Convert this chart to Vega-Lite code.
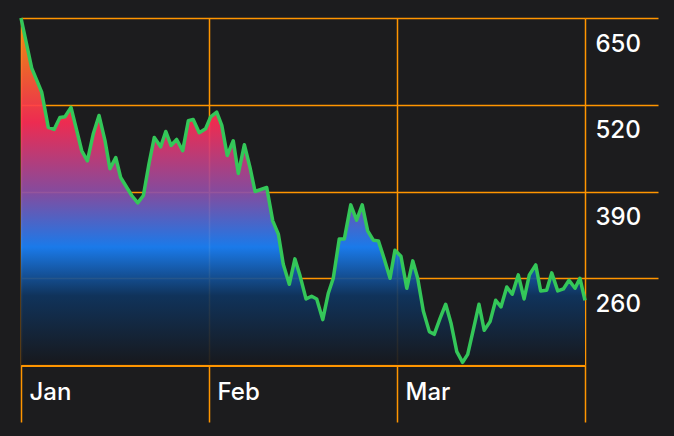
{
  "$schema": "https://vega.github.io/schema/vega-lite/v6.json",
  "autosize": "none",
  "width": 564,
  "height": 347,
  "padding": {"left": 21, "top": 18, "right": 89, "bottom": 71},
  "background": "#1c1c1e",
  "config": {
    "view": {"stroke": null},
    "axis": {
      "gridColor": "#ff9500",
      "gridWidth": 1.5,
      "tickColor": "#ff9500",
      "tickWidth": 1.5,
      "labelColor": "#ffffff",
      "labelFont": "Inter",
      "labelFontSize": 24,
      "labelFontWeight": 500,
      "title": null
    }
  },
  "data": {
    "values": [
      {"t": 0, "v": 650}, {"t": 0.057, "v": 575}, {"t": 0.11, "v": 539}, {"t": 0.145, "v": 486},
      {"t": 0.176, "v": 483}, {"t": 0.207, "v": 501}, {"t": 0.234, "v": 502}, {"t": 0.266, "v": 516},
      {"t": 0.323, "v": 451}, {"t": 0.353, "v": 436}, {"t": 0.385, "v": 477}, {"t": 0.415, "v": 504},
      {"t": 0.447, "v": 466}, {"t": 0.473, "v": 424}, {"t": 0.504, "v": 441}, {"t": 0.53, "v": 411},
      {"t": 0.589, "v": 384}, {"t": 0.621, "v": 373}, {"t": 0.651, "v": 384}, {"t": 0.681, "v": 432},
      {"t": 0.709, "v": 471}, {"t": 0.743, "v": 457}, {"t": 0.77, "v": 480}, {"t": 0.798, "v": 459},
      {"t": 0.828, "v": 468}, {"t": 0.86, "v": 451}, {"t": 0.89, "v": 496}, {"t": 0.916, "v": 498},
      {"t": 0.948, "v": 478}, {"t": 0.982, "v": 484}, {"t": 1.009, "v": 502}, {"t": 1.041, "v": 509},
      {"t": 1.068, "v": 489}, {"t": 1.097, "v": 444}, {"t": 1.129, "v": 466}, {"t": 1.156, "v": 417},
      {"t": 1.188, "v": 460}, {"t": 1.218, "v": 426}, {"t": 1.245, "v": 390}, {"t": 1.307, "v": 396},
      {"t": 1.339, "v": 346}, {"t": 1.369, "v": 326}, {"t": 1.395, "v": 281}, {"t": 1.427, "v": 251},
      {"t": 1.457, "v": 289}, {"t": 1.484, "v": 264}, {"t": 1.516, "v": 229}, {"t": 1.546, "v": 233},
      {"t": 1.573, "v": 229}, {"t": 1.605, "v": 198}, {"t": 1.635, "v": 238}, {"t": 1.661, "v": 260},
      {"t": 1.693, "v": 319}, {"t": 1.72, "v": 319}, {"t": 1.754, "v": 370}, {"t": 1.785, "v": 347},
      {"t": 1.815, "v": 370}, {"t": 1.844, "v": 331}, {"t": 1.874, "v": 317}, {"t": 1.901, "v": 316},
      {"t": 1.931, "v": 290}, {"t": 1.963, "v": 260}, {"t": 1.989, "v": 302}, {"t": 2.021, "v": 293},
      {"t": 2.052, "v": 245}, {"t": 2.084, "v": 286}, {"t": 2.11, "v": 260}, {"t": 2.14, "v": 211},
      {"t": 2.172, "v": 180}, {"t": 2.198, "v": 176}, {"t": 2.229, "v": 200}, {"t": 2.259, "v": 221},
      {"t": 2.287, "v": 193}, {"t": 2.318, "v": 150}, {"t": 2.349, "v": 134}, {"t": 2.376, "v": 146},
      {"t": 2.406, "v": 183}, {"t": 2.436, "v": 221}, {"t": 2.464, "v": 182}, {"t": 2.495, "v": 195},
      {"t": 2.525, "v": 227}, {"t": 2.553, "v": 217}, {"t": 2.584, "v": 247}, {"t": 2.613, "v": 236},
      {"t": 2.645, "v": 265}, {"t": 2.676, "v": 229}, {"t": 2.704, "v": 265}, {"t": 2.738, "v": 280},
      {"t": 2.764, "v": 241}, {"t": 2.796, "v": 242}, {"t": 2.823, "v": 268}, {"t": 2.855, "v": 241},
      {"t": 2.885, "v": 244}, {"t": 2.915, "v": 257}, {"t": 2.947, "v": 245}, {"t": 2.973, "v": 260},
      {"t": 3, "v": 227}
    ]
  },
  "encoding": {
    "x": {
      "field": "t",
      "type": "quantitative",
      "scale": {"domain": [0, 3], "nice": false, "zero": false},
      "axis": {
        "values": [0, 1, 2, 3],
        "grid": true,
        "tickSize": 57,
        "domainColor": "#ff9500",
        "domainWidth": 3,
        "labelExpr": "['Jan', 'Feb', 'Mar', ''][datum.value]",
        "labelAlign": "left",
        "labelBaseline": "middle",
        "labelOffset": 8,
        "labelPadding": -30,
        "labelFlush": false
      }
    },
    "y": {
      "field": "v",
      "type": "quantitative",
      "scale": {"domain": [130, 650], "nice": false, "zero": false},
      "axis": {
        "orient": "right",
        "values": [260, 390, 520, 650],
        "grid": true,
        "domain": false,
        "tickSize": 73,
        "labelAlign": "left",
        "labelBaseline": "middle",
        "labelOffset": 26,
        "labelPadding": -63,
        "labelFlush": false
      }
    }
  },
  "layer": [
    {
      "mark": {
        "type": "area",
        "fillOpacity": 0.92,
        "fill": {
          "x1": 0, "y1": 0, "x2": 0, "y2": 1,
          "gradient": "linear",
          "stops": [
            {"offset": 0, "color": "#ff9f0a"},
            {"offset": 0.3, "color": "#ff2d55"},
            {"offset": 0.5, "color": "#8e4fa8"},
            {"offset": 0.66, "color": "#1a82fb"},
            {"offset": 0.8, "color": "#0f3560"},
            {"offset": 1, "color": "#17181c"}
          ]
        }
      },
      "encoding": {"y2": {"datum": 130}}
    },
    {
      "mark": {"type": "line", "color": "#34c759", "strokeWidth": 3.5, "strokeJoin": "round"}
    }
  ]
}
